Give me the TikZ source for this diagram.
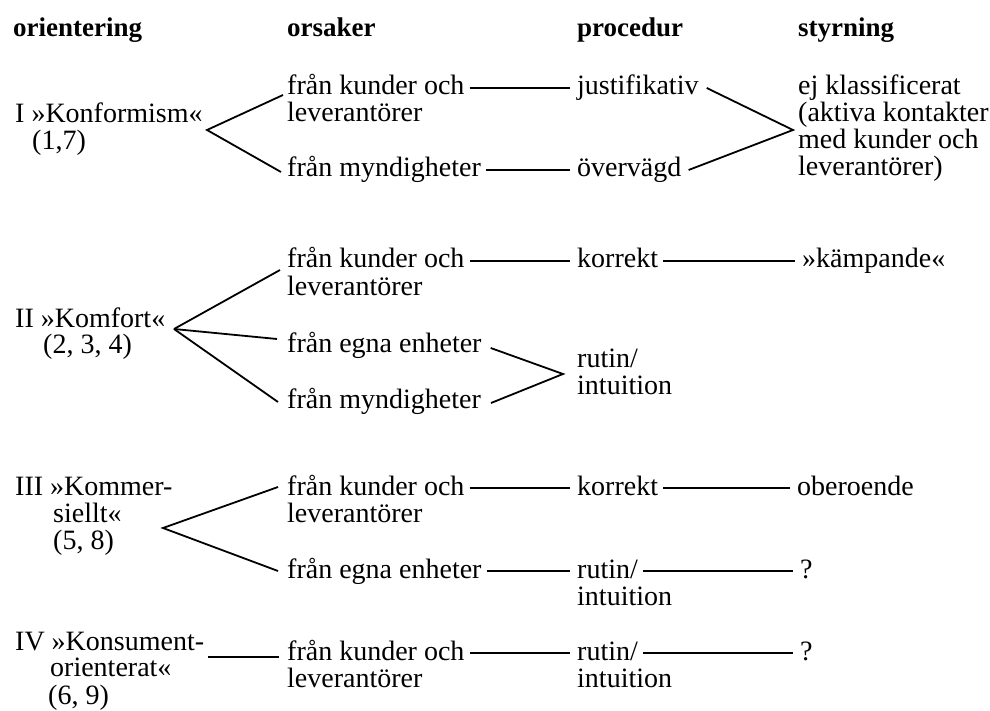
\documentclass[tikz,border=0pt]{standalone}
\usepackage{fontspec}
\setmainfont{Liberation Serif}
\begin{document}
\tikzset{
  txt/.style={anchor=base west, inner sep=0pt, text height=19pt, text depth=5pt,
              font=\fontsize{28}{27}\selectfont},
  head/.style={txt, font=\fontsize{27}{27}\selectfont\bfseries},
  conn/.style={line width=1.9pt, shorten <=5pt, shorten >=7pt},
  br/.style={line width=1.8pt, line join=miter}
}
\begin{tikzpicture}[x=1pt,y=-1pt]
\fill[white] (0,0) rectangle (990,711);
\useasboundingbox (0,0) rectangle (990,711);

% headers
\node[head] (h1) at (13,37) {orientering};
\node[head] (h2) at (287,37) {orsaker};
\node[head] (h3) at (577,37) {procedur};
\node[head] (h4) at (798,37) {styrning};

% ---------- group I ----------
\node[txt] (tI1) at (15,123) {I »Konformism«};
\node[txt] (tI2) at (32,150) {(1,7)};
\node[txt] (kI1) at (287,95) {från kunder och};
\node[txt] (kI2) at (287,122) {leverantörer};
\node[txt] (mI) at (287,177) {från myndigheter};
\node[txt] (jI) at (577,95) {justifikativ};
\node[txt] (oI) at (577,177) {övervägd};
\node[txt] (eI1) at (798,95) {ej klassificerat};
\node[txt] (eI2) at (798,122) {(aktiva kontakter};
\node[txt] (eI3) at (798,149) {med kunder och};
\node[txt] (eI4) at (798,176) {leverantörer)};
\coordinate (aI) at (207,130);
\coordinate (cI) at (793,130);
\draw[br] ([xshift=-4pt]kI1.base west) -- (aI) -- ([xshift=-6pt,yshift=5pt]mI.base west);
\draw[conn] (kI1.east) -- (jI.west);
\draw[conn] (mI.east) -- (oI.west);
\draw[br] ([xshift=8pt]jI.east) -- (cI) -- ([xshift=7pt]oI.east);

% ---------- group II ----------
\node[txt] (tII1) at (15,327) {II »Komfort«};
\node[txt] (tII2) at (43,353) {(2, 3, 4)};
\node[txt] (kII1) at (287,268) {från kunder och};
\node[txt] (kII2) at (287,295) {leverantörer};
\node[txt] (gII) at (287,352) {från egna enheter};
\node[txt] (mII) at (287,408) {från myndigheter};
\node[txt] (korII) at (577,268) {korrekt};
\node[txt] (kamII) at (802,268) {»kämpande«};
\node[txt] (rII1) at (577,367) {rutin/};
\node[txt] (rII2) at (577,394) {intuition};
\coordinate (aII) at (174,329);
\coordinate (bII) at (563,374);
\draw[br] ([xshift=-7pt,yshift=-2pt]kII1.base west) -- (aII);
\draw[br] (aII) -- ([xshift=-10pt,yshift=13pt]gII.base west);
\draw[br] (aII) -- ([xshift=-9pt,yshift=6pt]mII.base west);
\draw[conn] (kII1.east) -- (korII.west);
\draw[conn] (korII.east) -- (kamII.west);
\draw[br] ([xshift=9pt,yshift=-3pt]gII.east) -- (bII) -- ([xshift=10pt,yshift=-2pt]mII.east);

% ---------- group III ----------
\node[txt] (tIII1) at (15,495) {III »Kommer-};
\node[txt] (tIII2) at (53,522) {siellt«};
\node[txt] (tIII3) at (53,549) {(5, 8)};
\node[txt] (kIII1) at (287,495) {från kunder och};
\node[txt] (kIII2) at (287,522) {leverantörer};
\node[txt] (gIII) at (287,578) {från egna enheter};
\node[txt] (korIII) at (577,495) {korrekt};
\node[txt] (obIII) at (797,495) {oberoende};
\node[txt] (rIII1) at (577,578) {rutin/};
\node[txt] (rIII2) at (577,605) {intuition};
\node[txt] (qIII) at (800,578) {?};
\coordinate (aIII) at (163,528);
\draw[br] ([xshift=-9pt,yshift=8pt]kIII1.base west) -- (aIII) -- ([xshift=-9pt,yshift=7pt]gIII.base west);
\draw[conn] (kIII1.east) -- (korIII.west);
\draw[conn] (korIII.east) -- (obIII.west);
\draw[conn] (gIII.east) -- (rIII1.west);
\draw[conn] (rIII1.east) -- (qIII.west);

% ---------- group IV ----------
\node[txt, text depth=3pt] (tIV1) at (15,650) {IV »Konsument-};
\node[txt, text height=17pt, text depth=2pt] (tIV2) at (50,676) {orienterat«};
\node[txt, text height=17pt] (tIV3) at (48,704) {(6, 9)};
\node[txt] (kIV1) at (287,660) {från kunder och};
\node[txt] (kIV2) at (287,687) {leverantörer};
\node[txt] (rIV1) at (577,660) {rutin/};
\node[txt] (rIV2) at (577,687) {intuition};
\node[txt] (qIV) at (800,660) {?};
\draw[line width=1.9pt] ([xshift=4pt,yshift=-7pt]tIV1.base east) -- ([xshift=-8pt,yshift=3pt]kIV1.base west);
\draw[conn] (kIV1.east) -- (rIV1.west);
\draw[conn] (rIV1.east) -- (qIV.west);
\end{tikzpicture}
\end{document}
